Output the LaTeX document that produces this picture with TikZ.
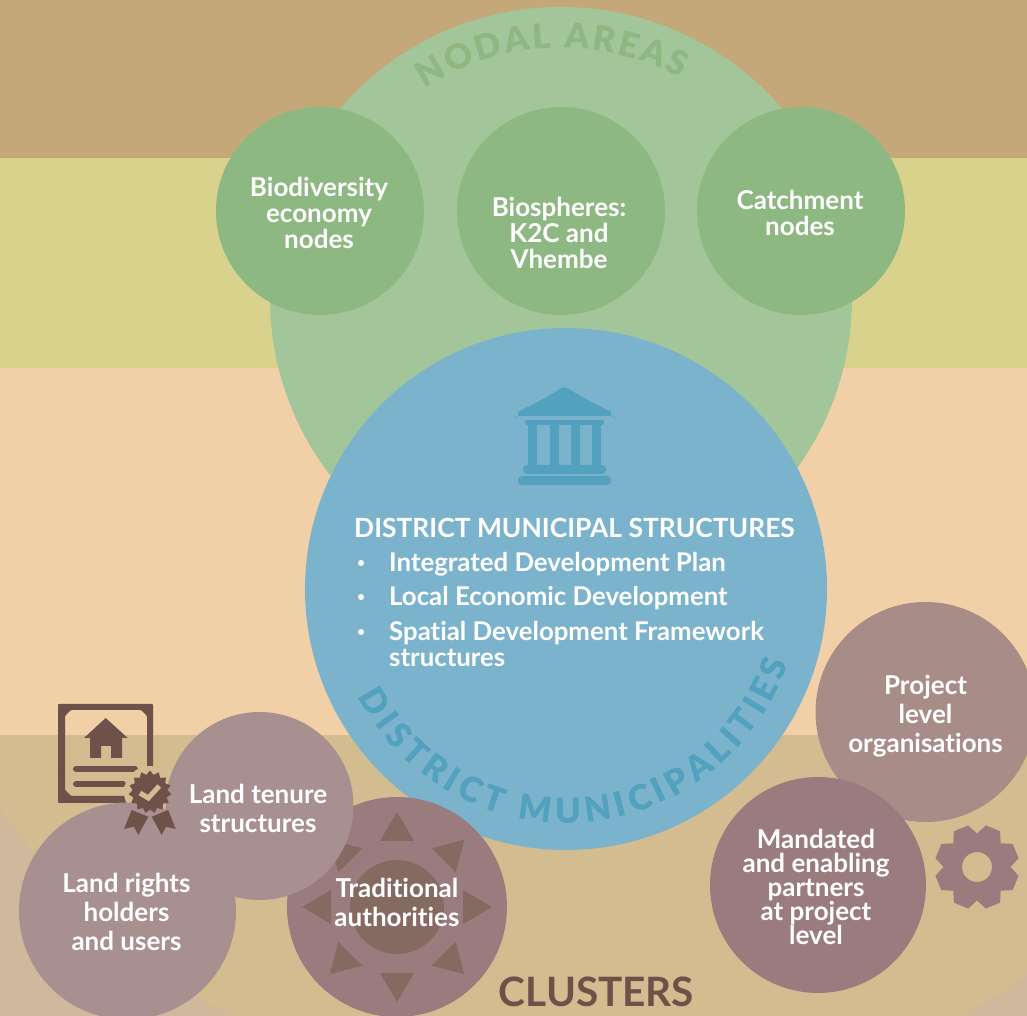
\documentclass[tikz,border=0pt]{standalone}
\usepackage{fontspec}
\setmainfont{Lato}[Ligatures=NoCommon]
\newfontface\heavyfont{Lato Black}
\usetikzlibrary{decorations.text}
\definecolor{bandtop}{HTML}{C4A87A}
\definecolor{bandyellow}{HTML}{D8D28C}
\definecolor{bandpeach}{HTML}{F1D0A8}
\definecolor{bandlow}{HTML}{D3BC90}
\definecolor{cornerbg}{HTML}{D0B89C}
\definecolor{nodalbg}{HTML}{A3C59A}
\definecolor{nodalfg}{HTML}{8EB882}
\definecolor{districtbg}{HTML}{7CB3CC}
\definecolor{districtfg}{HTML}{52A1BE}
\definecolor{mauvelight}{HTML}{A88F90}
\definecolor{mauvemid}{HTML}{A78C88}
\definecolor{mauvedark}{HTML}{9B7C7E}
\definecolor{tradmark}{HTML}{856A62}
\definecolor{iconbrown}{HTML}{6E524A}
\tikzset{
  ball/.style={circle, inner sep=0pt},
  nodalball/.style={ball, fill=nodalfg, minimum size=208pt},
  balltext/.style={inner sep=0pt, text=white, align=center, font=\fontsize{26}{26}\selectfont\bfseries},
  talltext/.style={balltext, font=\fontsize{26}{29}\selectfont\bfseries},
  listline/.style={anchor=base west, inner sep=0pt, text=white, font=\fontsize{25.8}{26}\selectfont\bfseries},
  dot/.style={circle, fill=white, inner sep=0pt, minimum size=6pt},
}
\newcommand{\arcfont}{\fontsize{34.5}{35}\heavyfont}
\begin{document}
\begin{tikzpicture}[x=1pt, y=1pt]
        \useasboundingbox (0,0) rectangle (1027,1016);
        \clip (0,0) rectangle (1027,1016);

        % Background bands
        \fill[bandtop] (0,858) rectangle (1027,1016);
        \fill[bandyellow] (0,648) rectangle (1027,858);
        \fill[bandpeach] (0,281) rectangle (1027,648);
        \fill[bandlow] (0,0) rectangle (1027,281);
        \begin{scope}
            \clip (0,0) rectangle (1027,240);
            \fill[cornerbg, even odd rule] (-300,-300) rectangle (1400,240) (596,636) circle (734);
        \end{scope}

        % Add certificate
        \fill[iconbrown, even odd rule, rounded corners=1pt] (58,213) rectangle (153,312)
            (71,306) -- (141,306) -- (147,300) -- (147,226) -- (141,220) -- (71,220) -- (65,226) -- (65,300) -- cycle;
        \fill[iconbrown] (105.7,298) -- (127.7,278) -- (122,278) -- (122,258) -- (111,258) -- (111,270) -- (101,270) -- (101,258) -- (90,258) -- (90,278) -- (84,278) -- cycle;
        \draw[iconbrown, line width=6pt, line cap=round] (76,247) -- (135,247);
        \draw[iconbrown, line width=6pt, line cap=round] (76,232) -- (123,232);
        \fill[bandlow] (150,224) circle (26);

        % Nodal areas
        \node[ball, fill=nodalbg, minimum size=582pt] (nodal) at (561,718) {};
        \path[decorate, decoration={text along path, text={|\arcfont|NODAL AREAS}, text color=nodalfg, text align={fit to path}}]
            ([shift={(123:250)}]nodal.center) arc[start angle=123, end angle=61.5, radius=250];
        \node[nodalball] (biodiversity) at (320,805) {};
        \node[nodalball] (biospheres) at (561,805) {};
        \node[nodalball] (catchment) at (801,805) {};
        \node[balltext] (biodiversitytext) at ([shift={(-1,-2)}]biodiversity.center) {Biodiversity\\economy\\nodes};
        \node[balltext] (biospherestext) at ([shift={(-2,-22)}]biospheres.center) {Biospheres:\\K2C and\\Vhembe};
        \node[balltext] (catchmenttext) at ([shift={(-1,-2)}]catchment.center) {Catchment\\nodes};

        % District municipalities
        \node[ball, fill=districtbg, minimum size=522pt] (district) at (566,427) {};
        \path[decorate, decoration={text along path, text={|\arcfont|DISTRICT MUNICIPALITIES}, text color=districtfg, text align={fit to path}}]
            ([shift={(207.4:234)}]district.center) arc[start angle=207.4, end angle=341.5, radius=234];

        % Add building icon
        \fill[districtfg, rounded corners=4pt] (564.5,630) -- (616,597) -- (613,600) -- (516,600) -- (513,597) -- cycle;
        \fill[districtfg] (564.5,628) -- (611,604) -- (611,600) -- (518,600) -- (518,604) -- cycle;
        \fill[districtfg, rounded corners=2pt] (525,596) rectangle (604,591);
        \foreach \colx in {528,550,571,592}
            \fill[districtfg] (\colx,591) rectangle (\colx+9,551);
        \fill[districtfg, rounded corners=4pt] (523,551) rectangle (606,542);
        \fill[districtfg, rounded corners=4pt] (518,540) rectangle (611,531);

        % Add list text
        \node[listline, font=\fontsize{26.4}{26}\selectfont\bfseries] (title) at (354,478) {DISTRICT MUNICIPAL STRUCTURES};
        \node[listline] (plan) at (389,444) {Integrated Development Plan};
        \node[listline] (economic) at (389,410) {Local Economic Development};
        \node[listline] (spatial) at (389,375) {Spatial Development Framework};
        \node[listline] (structures) at (389,349) {structures};
        \node[dot] (dotplan) at (361,453) {};
        \node[dot] (doteconomic) at (361,419) {};
        \node[dot] (dotspatial) at (361,384) {};

        % Project side
        \node[ball, fill=mauvemid, minimum size=220pt] (project) at (925.5,304) {};
        \node[talltext] (projecttext) at ([yshift=-4]project.center) {Project\\level\\organisations};
        \node[ball, fill=mauvedark, minimum size=216pt] (mandated) at (818,131) {};
        \node[balltext, font=\fontsize{26}{24}\selectfont\bfseries] (mandatedtext) at ([shift={(-2,-2)}]mandated.center) {Mandated\\and enabling\\partners\\at project\\level};
        \fill[mauvedark, even odd rule] (1010.5,149) \foreach \a in {0,45,...,315} {
            -- ([shift={(977,149)}]\a:33.5) -- ([shift={(977,149)}]\a+12:42.5) -- ([shift={(977,149)}]\a+33:42.5) } -- cycle
            (977,149) circle (15);

        % Traditional authorities
        \node[ball, fill=mauvedark, minimum size=220pt] (traditional) at (397,109) {};
        \foreach \a in {0,45,...,315}
            \fill[tradmark, shift={(397,109)}, rotate=\a] (95,0) -- (66,17) -- (66,-17) -- cycle;
        \node[ball, fill=tradmark, minimum size=94pt] (traditionalcore) at (397,109) {};
        \node[talltext] (traditionaltext) at ([yshift=5]traditional.center) {Traditional\\authorities};

        % Land circles
        \node[ball, fill=mauvelight, minimum size=188pt] (tenure) at (259.5,210) {};
        \node[ball, fill=mauvelight, minimum size=217pt] (rights) at (127.5,105) {};
        \node[talltext] (tenuretext) at ([shift={(-1.5,-2)}]tenure.center) {Land tenure\\structures};
        \node[talltext] (rightstext) at ([shift={(-1,-1)}]rights.center) {Land rights\\holders\\and users};

        % Add badge
        \fill[iconbrown] (150,245.5) \foreach \a in {0,24,...,336} {
            -- ([shift={(150,224)}]90+\a:21.5) -- ([shift={(150,224)}]102+\a:17.5) } -- cycle;
        \draw[bandlow, line width=5pt] (140,223) -- (148.3,218) -- (159.3,230);
        \fill[iconbrown] (131.7,206) -- (148.3,199.3) -- (138.3,181) -- (134,189.3) -- (124,187) -- cycle;
        \fill[iconbrown] (168.3,206) -- (151.7,199.3) -- (161.7,181) -- (166,189.3) -- (175.7,187) -- cycle;

        \node[text=iconbrown, anchor=base, inner sep=0pt, font=\fontsize{40.5}{40}\selectfont\bfseries] (clusters) at (596.5,9) {CLUSTERS};
    \end{tikzpicture}
\end{document}
